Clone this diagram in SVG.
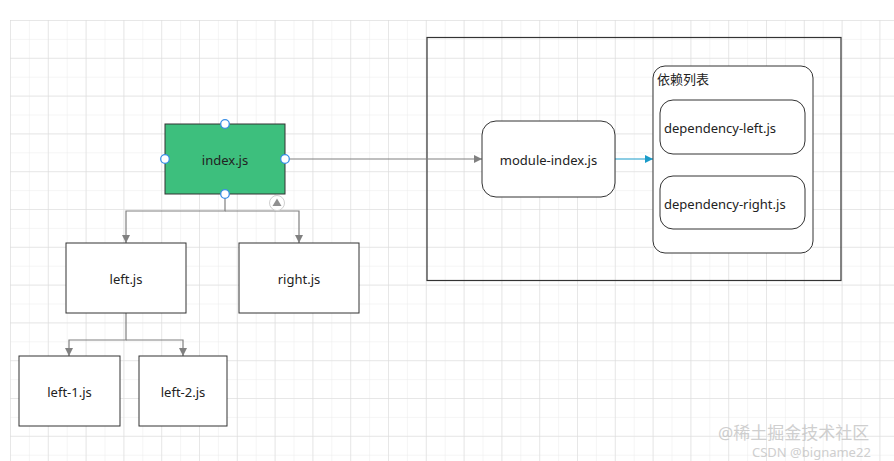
<svg xmlns="http://www.w3.org/2000/svg" width="894" height="461" viewBox="0 0 894 461">
<defs>
<pattern id="minor" x="10" y="20" width="18.9" height="18.9" patternUnits="userSpaceOnUse">
<path d="M0 0H18.9M0 0V18.9" fill="none" stroke="#ebebeb" stroke-width="1"/>
</pattern>
<pattern id="major" x="10" y="20" width="37.8" height="37.8" patternUnits="userSpaceOnUse">
<path d="M0 0H37.8M0 0V37.8" fill="none" stroke="#dadada" stroke-width="1"/>
</pattern>
<marker id="ag" viewBox="0 0 10 10" refX="10" refY="5" markerWidth="8" markerHeight="8" markerUnits="userSpaceOnUse" orient="auto">
<path d="M0 0L10 5L0 10z" fill="#808080"/>
</marker>
<marker id="ab" viewBox="0 0 10 10" refX="10" refY="5" markerWidth="8" markerHeight="8" markerUnits="userSpaceOnUse" orient="auto">
<path d="M0 0L10 5L0 10z" fill="#1a9bc9"/>
</marker>
</defs>
<style>
.t{font-family:"Noto Sans","Noto Sans CJK SC",sans-serif;font-size:13px;fill:#222;}
.c{text-anchor:middle;dominant-baseline:central;}
.box{fill:#fff;stroke:#333;stroke-width:1;}
.ln{fill:none;stroke:#808080;stroke-width:1.2;}
.h{fill:#fff;stroke:#3b8fe6;stroke-width:1.3;}
.wm{font-family:"Noto Sans","Noto Sans CJK SC",sans-serif;fill:#bbb;opacity:0.7;}
</style>
<rect width="894" height="461" fill="#fff"/>
<rect x="10" y="20" width="884" height="441" fill="url(#minor)"/>
<rect x="10" y="20" width="884" height="441" fill="url(#major)"/>

<g id="outer-frame"><rect x="427" y="37.5" width="414" height="243" fill="none" stroke="#333" stroke-width="1.2"/></g>

<g id="connectors">
<path class="ln" d="M225 194V211H126V243" marker-end="url(#ag)"/>
<path class="ln" d="M225 211H299V243"  marker-end="url(#ag)"/>
<path class="ln" d="M126 313V340H69V356" marker-end="url(#ag)"/>
<path class="ln" d="M126 340H183V356" marker-end="url(#ag)"/>
<path class="ln" d="M285 159H482" marker-end="url(#ag)"/>
<path fill="none" stroke="#1a9bc9" stroke-width="1.2" d="M615 159H653" marker-end="url(#ab)"/>
</g>

<g id="index">
<rect x="165" y="124" width="120" height="70" fill="#3dbf7d" stroke="#333" stroke-width="1"/>
<text class="t c" x="225" y="160">index.js</text>
<circle class="h" cx="225" cy="124" r="4.3"/>
<circle class="h" cx="165" cy="159" r="4.3"/>
<circle class="h" cx="285" cy="159" r="4.3"/>
<circle class="h" cx="225" cy="194" r="4.3"/>
<circle cx="277" cy="203" r="7.5" fill="#fff" stroke="#d0d0d0" stroke-width="1"/>
<path d="M277 198.5L281.5 206H272.5z" fill="#909090"/>
</g>

<g id="left"><rect class="box" x="66" y="243" width="120" height="70"/><text class="t c" x="126" y="279">left.js</text></g>
<g id="right"><rect class="box" x="239" y="243" width="120" height="70"/><text class="t c" x="299" y="279">right.js</text></g>
<g id="left-1"><rect class="box" x="19" y="356" width="101" height="70"/><text class="t c" x="69.5" y="392">left-1.js</text></g>
<g id="left-2"><rect class="box" x="139" y="356" width="88" height="70"/><text class="t c" x="183" y="392">left-2.js</text></g>

<g id="module-index"><rect class="box" x="482" y="121" width="133" height="76" rx="14"/><text class="t c" x="548.5" y="160">module-index.js</text></g>

<g id="dep-list">
<rect class="box" x="653" y="66" width="160" height="187" rx="12"/>
<text class="t" x="657" y="84">依赖列表</text>
</g>
<g id="dep-left"><rect class="box" x="660" y="100" width="145" height="54" rx="13"/><text class="t" x="664" y="133">dependency-left.js</text></g>
<g id="dep-right"><rect class="box" x="660" y="176" width="145" height="53" rx="13"/><text class="t" x="664" y="209">dependency-right.js</text></g>

<g id="watermark">
<text class="wm" x="718" y="439" font-size="17">@稀土掘金技术社区</text>
<text class="wm" x="752" y="457" font-size="13">CSDN @bigname22</text>
</g>
</svg>
